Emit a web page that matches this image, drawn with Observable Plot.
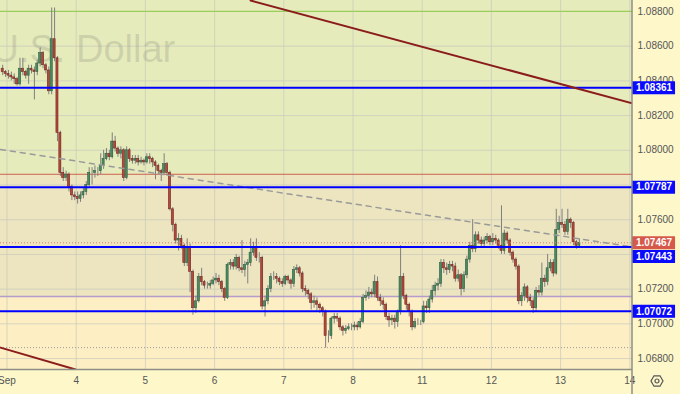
<!DOCTYPE html>
<html><head><meta charset="utf-8">
<script src="https://cdn.jsdelivr.net/npm/d3@7"></script>
<script src="https://cdn.jsdelivr.net/npm/@observablehq/plot@0.6"></script>
<style>
html,body{margin:0;padding:0;background:#fdf7c9;}
#chart{width:680px;height:394px;overflow:hidden;}
#chart svg{display:block;}
</style></head><body><div id="chart"></div>
<script>
// ---- data (EUR/USD hourly, Aug 31 22:00 .. Sep 13 06:00) ----
const dayLabels = ["Sep","4","5","6","7","8","11","12","13","14"];
const priceTicks = [1.068,1.070,1.072,1.074,1.076,1.078,1.080,1.082,1.084,1.086,1.088];
const priceTickLabels = [1.068,1.070,1.072,1.076,1.080,1.082,1.084,1.086,1.088];
const firstOpen = 1.0847;
const close = [
 1.0845,1.0844,
 1.0843,1.0842,1.0841,1.0838,1.0847,1.0845,1.0843,1.0847,1.0846,1.0845,1.0850,1.0856,1.0849,1.0846,1.0834,1.0864,1.0853,1.0810,1.0787,1.0784,1.0786,1.0779,1.0774,1.0773,
 1.0772,1.0774,1.0776,1.0780,1.0787,1.0787,1.0788,1.0788,1.0791,1.0795,1.0798,1.0796,1.0805,1.0801,1.0798,1.0800,1.0784,1.0800,1.0795,1.0794,1.0795,1.0793,1.0794,1.0793,
 1.0796,1.0795,1.0793,1.0791,1.0788,1.0787,1.0792,1.0787,1.0766,1.0757,1.0748,1.0749,1.0745,1.0735,1.0744,1.0730,1.0709,1.0713,1.0727,1.0724,1.0722,1.0722,1.0723,1.0725,
 1.0726,1.0724,1.0720,1.0715,1.0734,1.0735,1.0733,1.0738,1.0732,1.0731,1.0734,1.0735,1.0741,1.0744,1.0738,1.0738,1.0710,1.0713,1.0720,1.0727,1.0727,1.0726,1.0724,1.0723,
 1.0727,1.0725,1.0723,1.0731,1.0732,1.0729,1.0720,1.0719,1.0717,1.0712,1.0713,1.0711,1.0709,1.0707,1.0693,1.0693,1.0703,1.0704,1.0703,1.0698,1.0696,1.0697,1.0698,1.0698,
 1.0699,1.0698,1.0701,1.0715,1.0716,1.0718,1.0717,1.0724,1.0715,1.0713,1.0711,1.0704,1.0702,1.0703,1.0701,1.0707,1.0727,1.0716,1.0711,1.0707,1.0698,1.0701,1.0701,1.0701,
 1.0710,1.0709,1.0714,1.0719,1.0722,1.0723,1.0735,1.0732,1.0731,1.0734,1.0733,1.0726,1.0728,1.0720,1.0728,1.0737,1.0745,1.0743,1.0751,1.0748,1.0746,1.0748,1.0750,1.0747,
 1.0749,1.0748,1.0745,1.0742,1.0752,1.0748,1.0741,1.0737,1.0733,1.0713,1.0716,1.0721,1.0715,1.0713,1.0709,1.0719,1.0718,1.0726,1.0724,1.0732,1.0735,1.0729,1.0754,1.0758,
 1.0757,1.0753,1.0760,1.0758,1.0747,1.0745,1.07467
];
const high = [
 1.0849,1.0846,
 1.0846,1.0845,1.0844,1.0842,1.0853,1.0853,1.0846,1.0849,1.0849,1.0848,1.0852,1.0859,1.0857,1.0850,1.0848,1.0882,1.0882,1.0854,1.0811,1.0790,1.0788,1.0787,1.0780,1.0776,
 1.0776,1.0776,1.0778,1.0782,1.0790,1.0790,1.0791,1.0790,1.0798,1.0800,1.0801,1.0800,1.0810,1.0808,1.0802,1.0802,1.0801,1.0802,1.0801,1.0797,1.0797,1.0797,1.0796,1.0795,
 1.0798,1.0798,1.0796,1.0794,1.0792,1.0789,1.0798,1.0793,1.0788,1.0767,1.0758,1.0752,1.0751,1.0746,1.0749,1.0746,1.0731,1.0716,1.0729,1.0732,1.0725,1.0724,1.0725,1.0727,
 1.0729,1.0728,1.0725,1.0721,1.0735,1.0737,1.0737,1.0740,1.0739,1.0748,1.0736,1.0737,1.0749,1.0747,1.0749,1.0741,1.0739,1.0716,1.0722,1.0729,1.0730,1.0729,1.0727,1.0726,
 1.0728,1.0728,1.0726,1.0733,1.0734,1.0733,1.0730,1.0722,1.0720,1.0718,1.0716,1.0715,1.0712,1.0710,1.0708,1.0696,1.0704,1.0706,1.0706,1.0704,1.0699,1.0699,1.0700,1.0700,
 1.0701,1.0701,1.0703,1.0717,1.0719,1.0721,1.0720,1.0728,1.0727,1.0717,1.0715,1.0712,1.0706,1.0705,1.0705,1.0708,1.0745,1.0729,1.0717,1.0712,1.0708,1.0703,1.0703,1.0702,
 1.0713,1.0713,1.0716,1.0722,1.0724,1.0726,1.0737,1.0737,1.0735,1.0736,1.0736,1.0735,1.0731,1.0729,1.0730,1.0739,1.0747,1.0760,1.0753,1.0753,1.0750,1.0750,1.0752,1.0751,
 1.0752,1.0751,1.0749,1.0768,1.0754,1.0753,1.0749,1.0742,1.0738,1.0734,1.0718,1.0723,1.0722,1.0717,1.0715,1.0721,1.0722,1.0735,1.0728,1.0740,1.0737,1.0737,1.0766,1.0762,
 1.0766,1.0759,1.0766,1.0761,1.0759,1.0748,1.0749
];
const low = [
 1.0843,1.0842,
 1.0841,1.0840,1.0838,1.0837,1.0837,1.0843,1.0841,1.0838,1.0844,1.0829,1.0843,1.0848,1.0847,1.0844,1.0832,1.0832,1.0851,1.0805,1.0785,1.0782,1.0782,1.0776,1.0771,1.0771,
 1.0769,1.0770,1.0772,1.0774,1.0779,1.0780,1.0784,1.0785,1.0786,1.0789,1.0794,1.0794,1.0795,1.0799,1.0796,1.0795,1.0782,1.0783,1.0793,1.0792,1.0792,1.0791,1.0792,1.0791,
 1.0792,1.0792,1.0790,1.0783,1.0786,1.0782,1.0786,1.0785,1.0765,1.0753,1.0746,1.0742,1.0743,1.0733,1.0733,1.0718,1.0705,1.0706,1.0712,1.0722,1.0720,1.0720,1.0720,1.0722,
 1.0723,1.0722,1.0718,1.0713,1.0714,1.0731,1.0731,1.0731,1.0730,1.0729,1.0727,1.0723,1.0733,1.0739,1.0736,1.0735,1.0708,1.0704,1.0711,1.0718,1.0725,1.0723,1.0722,1.0721,
 1.0722,1.0723,1.0720,1.0721,1.0729,1.0727,1.0718,1.0716,1.0714,1.0708,1.0709,1.0707,1.0706,1.0704,1.0686,1.0689,1.0691,1.0700,1.0701,1.0696,1.0693,1.0694,1.0696,1.0696,
 1.0696,1.0696,1.0697,1.0700,1.0713,1.0714,1.0715,1.0715,1.0713,1.0710,1.0708,1.0702,1.0698,1.0699,1.0697,1.0698,1.0705,1.0714,1.0708,1.0704,1.0696,1.0697,1.0699,1.0699,
 1.0700,1.0706,1.0706,1.0712,1.0716,1.0719,1.0721,1.0729,1.0728,1.0729,1.0730,1.0724,1.0724,1.0716,1.0718,1.0726,1.0735,1.0741,1.0741,1.0746,1.0744,1.0744,1.0746,1.0745,
 1.0745,1.0746,1.0743,1.0740,1.0740,1.0746,1.0739,1.0735,1.0731,1.0711,1.0710,1.0713,1.0712,1.0710,1.0706,1.0707,1.0716,1.0716,1.0721,1.0722,1.0730,1.0727,1.0728,1.0752,
 1.0755,1.0751,1.0751,1.0755,1.0745,1.0743,1.0744
];
const levels = [1.08361, 1.07787, 1.07443, 1.07072];
const lastPrice = 1.07467;
const zoneTop = 1.07862, zoneBottom = 1.07157;
const greenLevel = 1.0880;
const dottedLevel = 1.06863;
const trendDashed = [{t:-0.094,p:1.08005},{t:9.039,p:1.07443}];
const channelUpper = [{t:3.519,p:1.08863},{t:9.039,p:1.08270}];
const channelLower = [{t:-0.094,p:1.06863},{t:0.99,p:1.06737}];

// ---- build ----
const xDomain = [-0.094, 9.039];
const yDomain = [1.06737, 1.08863];
const barsBeforeSep1 = 2;
const bars = close.map((c, i) => ({
  t: (i - barsBeforeSep1 + 0.5) / 24,
  open: i === 0 ? firstOpen : close[i - 1],
  close: c, high: high[i], low: low[i]
}));
const up = d => d.close >= d.open;
const hw = 0.015;
const zones = [
  {lo: zoneTop, hi: yDomain[1], fill: "#e6ebbb"},
  {lo: zoneBottom, hi: zoneTop, fill: "#ece5bf"},
  {lo: yDomain[0], hi: zoneBottom, fill: "#fdefc3"}
];
const boxW = 0.622;
const normalLabels = [
  {p: 1.08361, c: "#0a0aff"}, {p: 1.07787, c: "#0a0aff"},
  {p: 1.07072, c: "#0a0aff"}, {p: lastPrice, c: "#d6584a"}
];
const shiftedLabels = [{p: 1.07443, c: "#0a0aff"}];
const labelMarks = (arr, dy) => [
  Plot.ruleY(arr, {y: "p", x1: () => xDomain[1], x2: () => xDomain[1] + boxW, stroke: "c", strokeWidth: 13, dy}),
  Plot.text(arr, {y: "p", x: () => xDomain[1] + boxW / 2, text: d => d.p.toFixed(5), fill: "white", fontWeight: "bold", fontSize: 10, dy})
];

const chart = Plot.plot({
  width: 680, height: 394,
  marginLeft: 0, marginRight: 48, marginTop: 0, marginBottom: 25,
  style: {background: "transparent", fontFamily: "'Liberation Sans', Arial, sans-serif", overflow: "visible"},
  x: {domain: xDomain, axis: null, label: null},
  y: {domain: yDomain, axis: null, label: null},
  color: {type: "identity"},
  marks: [
    Plot.rect(zones, {x1: () => xDomain[0], x2: () => xDomain[1], y1: "lo", y2: "hi", fill: "fill"}),
    Plot.ruleY(priceTicks, {stroke: "#c9c9bd", strokeOpacity: 0.7}),
    Plot.ruleX(d3.range(dayLabels.length), {stroke: "#c9c9bd", strokeOpacity: 0.7}),
    Plot.text(["U.S. Dollar"], {frameAnchor: "top-left", dx: -9, dy: 35, fontSize: 38, fill: "#85857a", fillOpacity: 0.25, textAnchor: "start"}),
    Plot.ruleY([greenLevel], {stroke: "#9acd5a", strokeWidth: 1.2}),
    Plot.ruleY([zoneTop], {stroke: "#c9604c", strokeWidth: 1.2}),
    Plot.ruleY([zoneBottom], {stroke: "#b49ccc", strokeWidth: 1.5}),
    Plot.ruleY([dottedLevel], {stroke: "#9a9a9a", strokeDasharray: "1,2"}),
    Plot.ruleX(bars, {x: "t", y1: "low", y2: "high", stroke: "#7f7f7f", strokeWidth: 1}),
    Plot.rect(bars, {x1: d => d.t - hw, x2: d => d.t + hw, y1: "open", y2: "close",
      fill: d => up(d) ? "#4a8c62" : "#b4483c", stroke: d => up(d) ? "#2f5f41" : "#722b22", strokeWidth: 0.6}),
    Plot.ruleY([lastPrice], {stroke: "#e07a6a", strokeDasharray: "1,2"}),
    Plot.line(trendDashed, {x: "t", y: "p", stroke: "#9a9a9a", strokeWidth: 1.5, strokeDasharray: "5,5"}),
    Plot.ruleY(levels, {stroke: "#0000ff", strokeWidth: 2}),
    Plot.line(channelUpper, {x: "t", y: "p", stroke: "#8b1c1c", strokeWidth: 2, clip: true}),
    Plot.line(channelLower, {x: "t", y: "p", stroke: "#8b1c1c", strokeWidth: 2, clip: true}),
    Plot.ruleY([yDomain[0]], {stroke: "#8e8e86", strokeWidth: 1.5}),
    Plot.axisY(priceTickLabels, {anchor: "right", label: null, tickSize: 0, tickPadding: 5, tickFormat: d => d.toFixed(5), fontSize: 10, fill: "#555"}),
    Plot.axisX(d3.range(dayLabels.length), {anchor: "bottom", label: null, tickSize: 0, tickPadding: 7, tickFormat: i => dayLabels[i], fontSize: 10, fill: "#555"}),
    ...labelMarks(normalLabels, 0),
    ...labelMarks(shiftedLabels, 9.5)
  ]
});
document.getElementById("chart").appendChild(chart);

// UI chrome: price-scale separator and settings icon
const svg = d3.select(chart);
svg.append("line").attr("x1", 632).attr("x2", 632).attr("y1", 0).attr("y2", 394)
  .attr("stroke", "#8e8e86").attr("stroke-width", 1.5);
const g = svg.append("g").attr("transform", "translate(657,381)");
g.append("path").attr("d", d3.range(7).map((i) => {
  const a = Math.PI / 3 * i;
  return (i ? "L" : "M") + (6 * Math.cos(a)).toFixed(2) + "," + (6 * Math.sin(a)).toFixed(2);
}).join("") + "Z").attr("fill", "none").attr("stroke", "#555").attr("stroke-width", 1.2);
g.append("circle").attr("r", 2).attr("fill", "none").attr("stroke", "#555").attr("stroke-width", 1.2);
</script></body></html>
